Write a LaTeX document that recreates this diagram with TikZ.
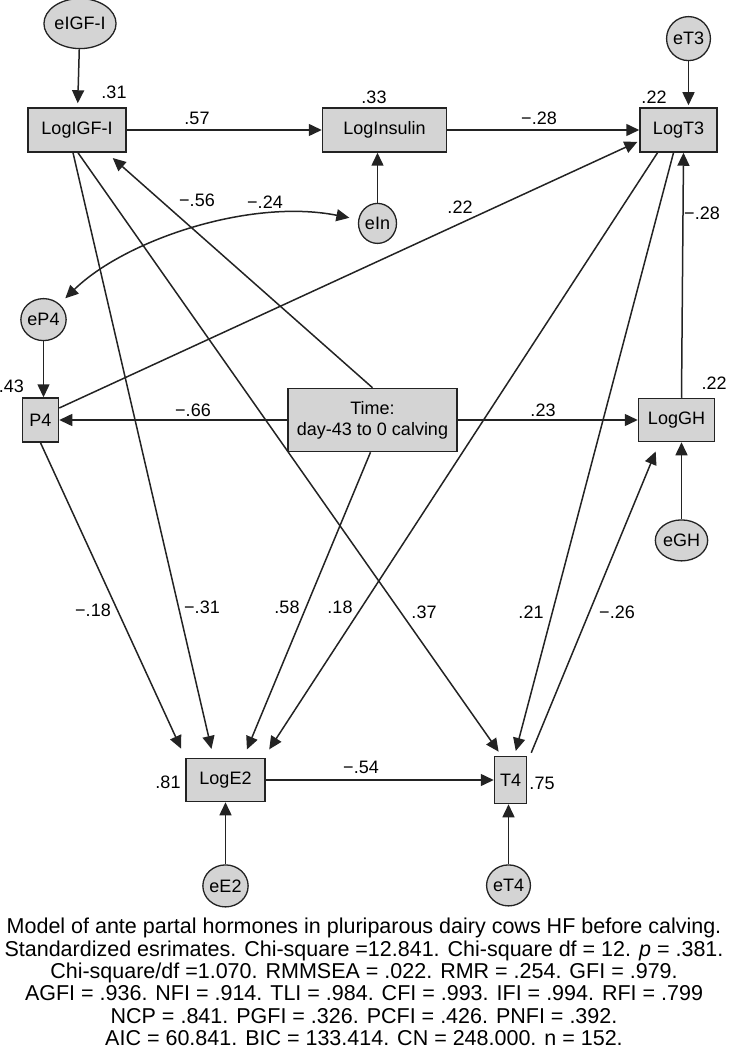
\documentclass[tikz,border=0pt]{standalone}
\usepackage{fontspec}
\setmainfont{Liberation Sans}
\usetikzlibrary{arrows.meta,positioning,shapes.geometric}
\definecolor{boxgray}{RGB}{212,212,212}
\definecolor{edgegray}{RGB}{35,35,35}

\begin{document}
\begin{tikzpicture}[
  x=1pt, y=-1pt,
  font=\fontsize{18}{21}\selectfont,
  box/.style={draw=edgegray, line width=1.5pt, fill=boxgray, inner sep=0pt, align=center, minimum height=44pt},
  err/.style={ellipse, draw=edgegray, line width=1.3pt, fill=boxgray, inner sep=0pt, minimum width=42pt, minimum height=42pt},
  coef/.style={inner sep=0pt},
  arr/.style={-{Triangle[length=13pt,width=12pt]}, line width=1.5pt, draw=edgegray},
  cov/.style={{Triangle[length=13pt,width=12pt]}-{Triangle[length=13pt,width=12pt]}, line width=1.5pt, draw=edgegray}
]
\useasboundingbox (0,0) rectangle (728,1056);

% observed variables
\node[box, minimum width=98pt] (logIGF) at (77,130) {LogIGF-I};
\node[box, minimum width=124pt, right=195pt of logIGF] (logIns) {LogInsulin};
\node[box, minimum width=77pt, right=192pt of logIns] (logT3) {LogT3};
\node[box, minimum width=169pt, minimum height=63pt] (time) at (372.5,420) {Time:\\day-43 to 0 calving};
\node[box, minimum width=36pt, left=228pt of time] (p4) {P4};
\node[box, minimum width=76pt, minimum height=43pt, right=180pt of time] (logGH) {LogGH};
\node[box, minimum width=79pt, minimum height=43pt] (logE2) at (225.5,780) {LogE2};
\node[box, minimum width=32pt, minimum height=47pt, right=228pt of logE2] (t4) {T4};

% error terms
\node[err, minimum width=64pt, minimum height=50pt, above=58pt of logIGF, xshift=3pt] (eIGF) {eIGF-I};
\node[err, minimum width=38pt, minimum height=40pt, below=50pt of logIns, xshift=-7pt] (eIn) {eIn};
\node[err, minimum width=43pt, minimum height=44pt, above=46pt of logT3, xshift=10pt] (eT3) {eT3};
\node[err, above=56pt of p4, xshift=3pt] (eP4) {eP4};
\node[err, minimum width=48pt, minimum height=41pt, below=77pt of logGH, xshift=5pt] (eGH) {eGH};
\node[err, below=62pt of logE2] (eE2) {eE2};
\node[err, minimum width=40pt, minimum height=41pt, below=60pt of t4, xshift=-2pt] (eT4) {eT4};

% paths
\draw[arr, shorten >=4pt] (eIGF) -- (logIGF);
\draw[arr] (logIGF) -- (logIns);
\draw[arr] (logIns) -- (logT3);
\draw[arr, shorten >=2pt] (eT3) -- (eT3 |- logT3.north);
\draw[arr] (eIn) -- (eIn |- logIns.south);
\draw[arr, shorten >=8pt] (time.north) -- ([xshift=-20pt]logIGF.south east);
\draw[arr] (time) -- (p4);
\draw[arr] (time) -- (logGH);
\draw[arr, shorten >=2pt] ([yshift=12pt]p4.east) -- ([yshift=-11pt]logT3.west);
\draw[arr] (eP4) -- (eP4 |- p4.north);
\draw[arr] ([xshift=5pt]logGH.north) -- ([xshift=5pt]logT3.south);
\draw[arr] (eGH) -- (eGH |- logGH.south);
\draw[arr, shorten >=10pt] (p4.south) -- (logE2.north west);
\draw[arr, shorten >=9pt] ([xshift=-4pt]logIGF.south) -- ([xshift=-12pt]logE2.north);
\draw[arr, shorten >=9pt] ([xshift=-2pt]time.south) -- ([xshift=18pt]logE2.north);
\draw[arr, shorten >=10pt] ([xshift=-21pt]logT3.south) -- ([xshift=-2pt]logE2.north east);
\draw[arr, shorten >=5pt] ([xshift=1pt]logIGF.south) -- ([xshift=-9pt]t4.north);
\draw[arr, shorten >=5pt] ([xshift=-5pt]logT3.south) -- ([xshift=4pt]t4.north);
\draw[arr, shorten >=10pt] ([xshift=4pt,yshift=3pt]t4.north east) -- ([xshift=-17pt]logGH.south);
\draw[arr] (logE2) -- (t4);
\draw[arr] (eE2) -- (logE2);
\draw[arr] (eT4) -- (eT4 |- t4.south);
\draw[cov, shorten <=8pt, shorten >=9pt] (eP4) .. controls (125,240) and (250,198) .. (eIn);

% squared multiple correlations
\node[coef] (r2IGF) at (114,92) {.31};
\node[coef] (r2Ins) at (374,97) {.33};
\node[coef] (r2T3) at (654,97) {.22};
\node[coef, anchor=east] (r2P4) at (24,386) {.43};
\node[coef] (r2GH) at (714,383) {.22};
\node[coef] (r2E2) at (168,782) {.81};
\node[coef] (r2T4) at (542,783) {.75};

% standardized weights
\node[coef] (wIGFIns) at (197,118) {.57};
\node[coef] (wInsT3) at (539,118) {−.28};
\node[coef] (wTimeIGF) at (197,200) {−.56};
\node[coef] (wCov) at (265,202) {−.24};
\node[coef] (wP4T3) at (460,207) {.22};
\node[coef] (wGHT3) at (702,213) {−.28};
\node[coef] (wTimeP4) at (193,410) {−.66};
\node[coef] (wTimeGH) at (543,410) {.23};
\node[coef] (wP4E2) at (93,610) {−.18};
\node[coef] (wIGFE2) at (202,607) {−.31};
\node[coef] (wTimeE2) at (287,607) {.58};
\node[coef] (wT3E2) at (340,607) {.18};
\node[coef] (wIGFT4) at (424,612) {.37};
\node[coef] (wT3T4) at (531,612) {.21};
\node[coef] (wT4GH) at (617,612) {−.26};
\node[coef] (wE2T4) at (361,767) {−.54};

% fit indices
\node[coef, anchor=north, align=center, font=\fontsize{21.5}{22.4}\selectfont] (caption) at (364,918) {Model of ante partal hormones in pluriparous dairy cows HF before calving.\\
Standardized esrimates. Chi-square =12.841. Chi-square df = 12. \textit{p} = .381.\\
Chi-square/df =1.070. RMMSEA = .022. RMR = .254. GFI = .979.\\
AGFI = .936. NFI = .914. TLI = .984. CFI = .993. IFI = .994. RFI = .799\\
NCP = .841. PGFI = .326. PCFI = .426. PNFI = .392.\\
AIC = 60.841. BIC = 133.414. CN = 248.000. n = 152.};
\end{tikzpicture}
\end{document}
